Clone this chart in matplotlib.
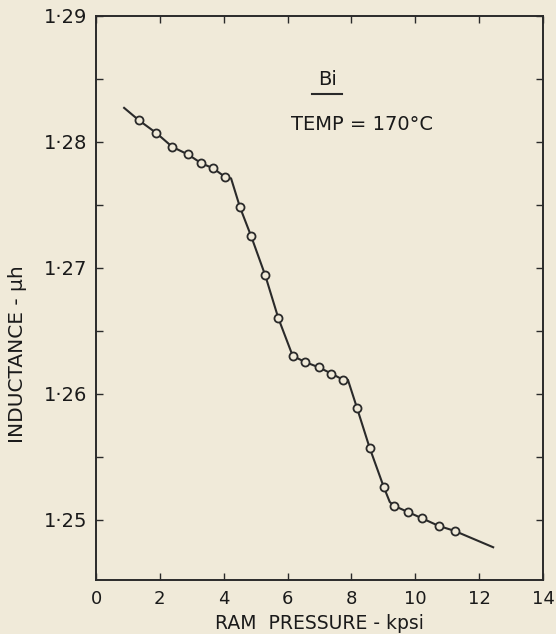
import numpy as np
import matplotlib
matplotlib.use("Agg")
import matplotlib.pyplot as plt
from matplotlib.ticker import MultipleLocator, FuncFormatter

# measured points (open circles)
pressure = [1.35, 1.89, 2.39, 2.88, 3.30, 3.67, 4.05,
            4.51, 4.86, 5.30, 5.71, 6.16, 6.56, 6.97, 7.37, 7.74,
            8.17, 8.57, 9.01, 9.33, 9.77, 10.21, 10.73, 11.23]
inductance = [1.2817, 1.2807, 1.2796, 1.2790, 1.2783, 1.2779, 1.2772,
              1.2748, 1.2725, 1.2694, 1.2660, 1.2630, 1.2625, 1.2621, 1.2616, 1.2611,
              1.2589, 1.2557, 1.2526, 1.2511, 1.2506, 1.2501, 1.2495, 1.2491]

# hand-drawn curve through the points
curve_x = [0.88, 1.35, 1.89, 2.39, 2.88, 3.30, 3.67, 4.05, 4.23,
           4.51, 4.86, 5.30, 5.71, 6.16, 6.56, 6.97, 7.37, 7.74, 7.89,
           8.17, 8.57, 9.01, 9.20, 9.33, 9.77, 10.21, 10.73, 11.23, 12.44]
curve_y = [1.2827, 1.2817, 1.2807, 1.2796, 1.2790, 1.2783, 1.2779, 1.2772, 1.2771,
           1.2748, 1.2725, 1.2694, 1.2660, 1.2630, 1.2625, 1.2621, 1.2616, 1.2611, 1.2611,
           1.2589, 1.2557, 1.2526, 1.2514, 1.2511, 1.2506, 1.2501, 1.2495, 1.2491, 1.2478]

x_ticks = [0, 2, 4, 6, 8, 10, 12, 14]
y_ticks = [1.25, 1.26, 1.27, 1.28, 1.29]

paper = '#f0ead9'
ink = '#2a2a2a'

fig = plt.figure(figsize=(5.56, 6.34), dpi=100, facecolor=paper)
ax = fig.add_axes([0.1727, 0.0852, 0.8039, 0.8896], facecolor=paper)

ax.plot(curve_x, curve_y, '-', color=ink, lw=1.5, zorder=2)
ax.plot(pressure, inductance, 'o', ms=5.8, mfc=paper, mec=ink, mew=1.3, zorder=3)

ax.set_xlim(0, 14)
ax.set_ylim(1.2452, 1.29)
ax.set_xticks(x_ticks)
ax.set_yticks(y_ticks)
ax.yaxis.set_minor_locator(MultipleLocator(0.005))
ax.yaxis.set_major_formatter(FuncFormatter(lambda v, p: ('%.2f' % v).replace('.', '\u00b7')))

ax.tick_params(axis='both', which='both', direction='in', top=True, right=True,
               length=5, width=1.0, color=ink, labelcolor='#1a1a1a')
ax.tick_params(axis='y', labelsize=14, pad=6)
ax.tick_params(axis='x', labelsize=13, pad=7)
for s in ax.spines.values():
    s.set_linewidth(1.4)
    s.set_color(ink)

ax.set_xlabel('RAM  PRESSURE - kpsi', fontsize=13.5, color='#1a1a1a')
ax.xaxis.label.set_va('baseline')
ax.xaxis.set_label_coords(0.5, -0.0865)
ax.set_ylabel('INDUCTANCE - \u03bch', fontsize=14.5, color='#1a1a1a')
ax.yaxis.set_label_coords(-0.155, 0.40)

ax.text(0.517, 0.888, 'Bi', transform=ax.transAxes, fontsize=14, ha='center', va='center', color='#1a1a1a')
ax.plot([0.483, 0.55], [0.862, 0.862], transform=ax.transAxes, color=ink, lw=1.5)
ax.text(0.595, 0.807, 'TEMP = 170\u00b0C', transform=ax.transAxes, fontsize=14,
        ha='center', va='center', color='#1a1a1a')

fig.savefig('out.png', dpi=100, facecolor=paper)
